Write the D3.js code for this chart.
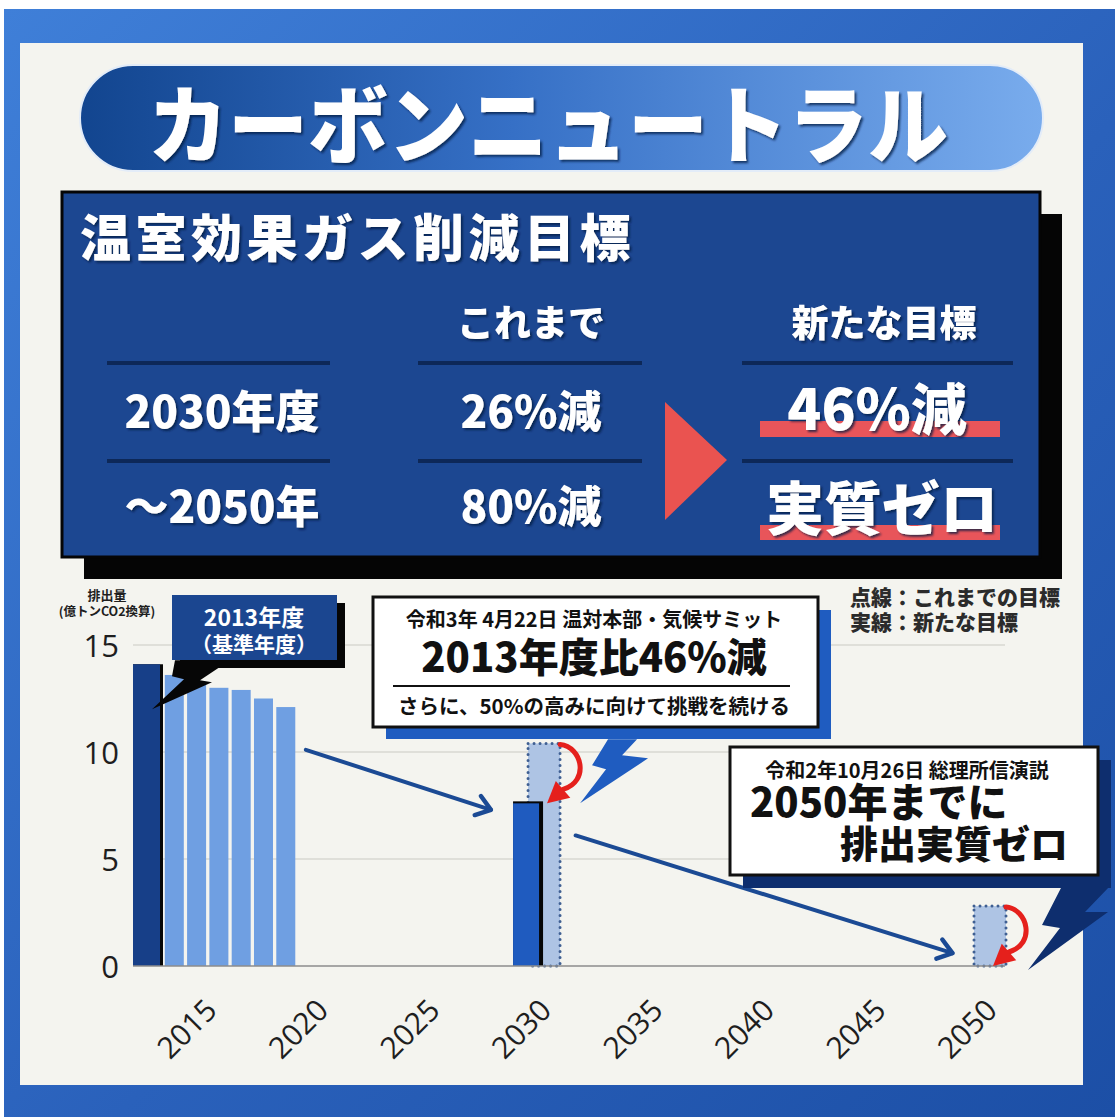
<!DOCTYPE html>
<html>
<head>
<meta charset="utf-8">
<script src="https://cdn.jsdelivr.net/npm/d3@7"></script>
<style>
  html, body { margin: 0; padding: 0; background: #ffffff; }
  svg { display: block; }
</style>
</head>
<body>
<script>
// 温室効果ガス排出量（億トンCO2換算）
const actualYears = [2013, 2014, 2015, 2016, 2017, 2018, 2019];
const actualValues = [14.1, 13.6, 13.2, 13.0, 12.9, 12.5, 12.1];
// 実線：新たな目標
const newTargetYears = [2030, 2050];
const newTargetValues = [7.6, 0];
// 点線：これまでの目標
const oldTargetYears = [2030, 2050];
const oldTargetValues = [10.4, 2.8];
// 軸の目盛り
const xTickYears = [2015, 2020, 2025, 2030, 2035, 2040, 2045, 2050];
const yTickValues = [0, 5, 10, 15];

// 削減目標の表
const tableHeaders = ["これまで", "新たな目標"];
const tableRowLabels = ["2030年度", "〜2050年"];
const tableBefore = ["26%減", "80%減"];
const tableAfter = ["46%減", "実質ゼロ"];

const W = 1115, H = 1117;
const JP = "'Noto Sans CJK JP', 'Noto Sans', sans-serif";
const NUM = "'Open Sans', 'Noto Sans', sans-serif";

const svg = d3.select("body").append("svg")
  .attr("width", W).attr("height", H)
  .attr("viewBox", `0 0 ${W} ${H}`);

const defs = svg.append("defs");

const frameGrad = defs.append("linearGradient").attr("id", "frameGrad")
  .attr("x1", "0").attr("y1", "0").attr("x2", "1").attr("y2", "1");
frameGrad.append("stop").attr("offset", "0%").attr("stop-color", "#3f7fd8");
frameGrad.append("stop").attr("offset", "55%").attr("stop-color", "#2a61bb");
frameGrad.append("stop").attr("offset", "100%").attr("stop-color", "#1c4fa6");

const pillGrad = defs.append("linearGradient").attr("id", "pillGrad")
  .attr("x1", "0").attr("y1", "0").attr("x2", "1").attr("y2", "0");
pillGrad.append("stop").attr("offset", "0%").attr("stop-color", "#12458f");
pillGrad.append("stop").attr("offset", "45%").attr("stop-color", "#3670c6");
pillGrad.append("stop").attr("offset", "100%").attr("stop-color", "#79aced");

const shadowWhite = defs.append("filter").attr("id", "txtShadow")
  .attr("x", "-10%").attr("y", "-20%").attr("width", "130%").attr("height", "150%");
shadowWhite.append("feDropShadow").attr("dx", 2).attr("dy", 2)
  .attr("stdDeviation", 1).attr("flood-color", "#061a3f").attr("flood-opacity", 0.75);

// ---- frame and panel ----
svg.append("rect").attr("x", 4).attr("y", 9).attr("width", W - 4).attr("height", H - 9)
  .attr("fill", "url(#frameGrad)");
svg.append("rect").attr("x", 20).attr("y", 43).attr("width", 1063).attr("height", 1042)
  .attr("fill", "#f4f4ef");

// ---- title pill ----
svg.append("rect").attr("x", 80).attr("y", 65).attr("width", 963).attr("height", 106)
  .attr("rx", 53).attr("fill", "url(#pillGrad)")
  .attr("stroke", "#e3ecf8").attr("stroke-width", 2);
svg.append("text")
  .attr("transform", "translate(548,157) scale(1,1.06)")
  .attr("text-anchor", "middle")
  .attr("font-family", JP).attr("font-weight", 900).attr("font-size", 80)
  .attr("fill", "#ffffff").attr("filter", "url(#txtShadow)")
  .text("カーボンニュートラル");

// ---- summary table ----
const table = svg.append("g");
table.append("rect").attr("x", 84).attr("y", 214).attr("width", 978).attr("height", 365)
  .attr("fill", "#050505");
table.append("rect").attr("x", 62).attr("y", 192).attr("width", 978).attr("height", 365)
  .attr("fill", "#1c4791").attr("stroke", "#050505").attr("stroke-width", 3);

table.append("text").attr("x", 80).attr("y", 257)
  .attr("font-family", JP).attr("font-weight", 900).attr("font-size", 51)
  .attr("letter-spacing", 4.5)
  .attr("fill", "#ffffff").attr("filter", "url(#txtShadow)")
  .text("温室効果ガス削減目標");

const colX = [222, 531, 880];
const dividerSpans = [[107, 330], [418, 642], [742, 1013]];
[363, 461].forEach(yy => {
  dividerSpans.forEach(([a, b]) => {
    table.append("line").attr("x1", a).attr("x2", b).attr("y1", yy).attr("y2", yy)
      .attr("stroke", "#0d2858").attr("stroke-width", 4);
  });
});

// red underline highlights behind the new targets
[[421, 16], [525, 15]].forEach(([yy, hh]) => {
  table.append("rect").attr("x", 760).attr("y", yy).attr("width", 240).attr("height", hh)
    .attr("fill", "#e8555a");
});

// arrow between the columns
table.append("path")
  .attr("d", d3.line()([[665, 402], [727, 460], [665, 520]]) + "Z")
  .attr("fill", "#ea5350");

const cellText = (x, y, size, txt) => table.append("text")
  .attr("x", x).attr("y", y).attr("text-anchor", "middle")
  .attr("font-family", JP).attr("font-weight", 900).attr("font-size", size)
  .attr("fill", "#ffffff").attr("filter", "url(#txtShadow)")
  .text(txt);

cellText(colX[1], 337, 37, tableHeaders[0]);
cellText(colX[2] + 4, 337, 37, tableHeaders[1]);

const rowY = [428, 523];
tableRowLabels.forEach((t, i) => cellText(colX[0], rowY[i], 44, t));
tableBefore.forEach((t, i) => cellText(colX[1], rowY[i], 44, t));
cellText(colX[2] - 3, 430, 56, tableAfter[0]);
cellText(colX[2] + 2, 530, 58, tableAfter[1]);

// ---- emissions chart ----
const x = d3.scaleLinear().domain([2013, 2050]).range([152, 977]);
const y = d3.scaleLinear().domain([0, 15]).range([966, 645]);
const plotLeft = 133, plotRight = 1005;

const chart = svg.append("g");

// gridlines
chart.append("g").selectAll("line")
  .data(yTickValues.filter(v => v > 0))
  .join("line")
  .attr("x1", plotLeft).attr("x2", plotRight)
  .attr("y1", d => y(d)).attr("y2", d => y(d))
  .attr("stroke", "#d8d8d2").attr("stroke-width", 1.5);

// y axis
const yAxis = chart.append("g")
  .attr("transform", `translate(${plotLeft - 14},0)`)
  .call(d3.axisLeft(y).tickValues(yTickValues).tickSize(0).tickPadding(0));
yAxis.select(".domain").remove();
yAxis.selectAll("text")
  .attr("font-family", NUM).attr("font-size", 31).attr("fill", "#1e1e1e")
  .attr("dy", "0.36em");

// axis title
chart.append("text").attr("x", 107).attr("y", 600).attr("text-anchor", "middle")
  .attr("font-family", JP).attr("font-weight", 700).attr("font-size", 13)
  .attr("fill", "#1e1e1e").text("排出量");
chart.append("text").attr("x", 107).attr("y", 616).attr("text-anchor", "middle")
  .attr("font-family", JP).attr("font-weight", 700).attr("font-size", 12.5)
  .attr("fill", "#1e1e1e").text("(億トンCO2換算)");

// legend note
chart.append("text").attr("x", 850).attr("y", 605)
  .attr("font-family", JP).attr("font-weight", 900).attr("font-size", 21)
  .attr("fill", "#2b2b2b").text("点線：これまでの目標");
chart.append("text").attr("x", 850).attr("y", 630)
  .attr("font-family", JP).attr("font-weight", 900).attr("font-size", 21)
  .attr("fill", "#2b2b2b").text("実線：新たな目標");

// old-target bars (dotted outline)
const oldData = oldTargetYears.map((yr, i) => ({ year: yr, value: oldTargetValues[i] }));
chart.append("g").selectAll("rect")
  .data(oldData)
  .join("rect")
  .attr("x", d => x(d.year) - 3)
  .attr("width", 32)
  .attr("y", d => y(d.value))
  .attr("height", d => y(0) - y(d.value))
  .attr("fill", "#aec4e4")
  .attr("stroke", "#3f5f92").attr("stroke-width", 3)
  .attr("stroke-dasharray", "0 6").attr("stroke-linecap", "round");

// record years
const actualData = actualYears.map((yr, i) => ({ year: yr, value: actualValues[i] }));
const baseYear = actualData[0];
const laterYears = actualData.slice(1);

chart.append("g").selectAll("rect")
  .data(laterYears)
  .join("rect")
  .attr("x", d => x(d.year) - 9.5)
  .attr("width", 19)
  .attr("y", d => y(d.value))
  .attr("height", d => y(0) - y(d.value))
  .attr("fill", "#6f9fe2");

// base year bar with dark edge
chart.append("rect")
  .attr("x", x(baseYear.year) - 19).attr("width", 30)
  .attr("y", y(baseYear.value)).attr("height", y(0) - y(baseYear.value))
  .attr("fill", "#060606");
chart.append("rect")
  .attr("x", x(baseYear.year) - 19).attr("width", 27)
  .attr("y", y(baseYear.value)).attr("height", y(0) - y(baseYear.value))
  .attr("fill", "#173f88");

// new-target bars (solid)
const newData = newTargetYears.map((yr, i) => ({ year: yr, value: newTargetValues[i] }))
  .filter(d => d.value > 0);
const newG = chart.append("g");
newG.selectAll("rect.edge")
  .data(newData)
  .join("rect").attr("class", "edge")
  .attr("x", d => x(d.year) - 18).attr("width", 30)
  .attr("y", d => y(d.value) - 2).attr("height", d => y(0) - y(d.value) + 2)
  .attr("fill", "#060606");
newG.selectAll("rect.fill")
  .data(newData)
  .join("rect").attr("class", "fill")
  .attr("x", d => x(d.year) - 18).attr("width", 26)
  .attr("y", d => y(d.value)).attr("height", d => y(0) - y(d.value))
  .attr("fill", "#1f5bbf");

// baseline
chart.append("line")
  .attr("x1", plotLeft).attr("x2", plotRight)
  .attr("y1", y(0)).attr("y2", y(0))
  .attr("stroke", "#8d8d8d").attr("stroke-width", 1.5);

// x tick labels
chart.append("g").selectAll("text")
  .data(xTickYears)
  .join("text")
  .attr("transform", d => `translate(${x(d) + 22},${y(0) + 46}) rotate(-45)`)
  .attr("text-anchor", "end")
  .attr("font-family", NUM).attr("font-size", 30).attr("fill", "#1e1e1e")
  .text(d => d);

// trend arrows between the milestones
const arrowColor = "#1b4a94";
function trendArrow(from, to) {
  const p0 = [x(from[0]), y(from[1])];
  const p1 = [x(to[0]), y(to[1])];
  chart.append("line")
    .attr("x1", p0[0]).attr("y1", p0[1]).attr("x2", p1[0]).attr("y2", p1[1])
    .attr("stroke", arrowColor).attr("stroke-width", 4).attr("stroke-linecap", "round");
  const ang = Math.atan2(p1[1] - p0[1], p1[0] - p0[0]);
  const len = 17, spread = Math.PI / 5;
  const a = [p1[0] - len * Math.cos(ang - spread), p1[1] - len * Math.sin(ang - spread)];
  const b = [p1[0] - len * Math.cos(ang + spread), p1[1] - len * Math.sin(ang + spread)];
  chart.append("path")
    .attr("d", d3.line()([a, p1, b]))
    .attr("fill", "none").attr("stroke", arrowColor).attr("stroke-width", 4.5)
    .attr("stroke-linecap", "round").attr("stroke-linejoin", "round");
}
trendArrow([2019.9, 10.1], [2028.2, 7.3]);
trendArrow([2032.0, 6.1], [2048.9, 0.6]);

// red curved arrows: old target → new target
function dropArrow(year, oldVal, newVal) {
  const S = [x(year) + 29, y(oldVal) + 1];
  const T = [x(year) + 16, y(newVal)];
  const E = [T[0] + 16, T[1] - 14];
  const p = d3.path();
  p.moveTo(S[0], S[1]);
  p.bezierCurveTo(S[0] + 22, S[1] + 2, S[0] + 30, T[1] - 22, E[0], E[1]);
  chart.append("path").attr("d", p.toString())
    .attr("fill", "none").attr("stroke", "#e5201c").attr("stroke-width", 5)
    .attr("stroke-linecap", "round");
  const dx = T[0] - E[0], dy = T[1] - E[1];
  const L = Math.hypot(dx, dy);
  const nx = -dy / L, ny = dx / L;
  const hw = 11;
  chart.append("path")
    .attr("d", d3.line()([
      [E[0] + nx * hw, E[1] + ny * hw], T, [E[0] - nx * hw, E[1] - ny * hw]
    ]) + "Z")
    .attr("fill", "#e5201c");
}
oldTargetYears.forEach((yr, i) => dropArrow(yr, oldTargetValues[i], newTargetValues[i]));

// lightning tails of the callouts (offsets from the tip)
function bolt(tip, offsets, color) {
  const pts = offsets.map(([dx, dy]) => [tip[0] + dx, tip[1] + dy]);
  chart.append("path").attr("d", d3.line()(pts) + "Z").attr("fill", color);
}

// ---- callout: base year ----
bolt([x(2013), y(12.0)],
  [[23, -49], [78, -49], [48, -29], [60, -27], [0, 0], [32, -30], [20, -33]], "#060606");
chart.append("rect").attr("x", 180).attr("y", 603).attr("width", 165).attr("height", 65)
  .attr("fill", "#060606");
chart.append("rect").attr("x", 172).attr("y", 595).attr("width", 165).attr("height", 65)
  .attr("fill", "#1b4690");
chart.append("text").attr("x", 254).attr("y", 626).attr("text-anchor", "middle")
  .attr("font-family", JP).attr("font-weight", 700).attr("font-size", 23)
  .attr("fill", "#ffffff").text("2013年度");
chart.append("text").attr("x", 254).attr("y", 652).attr("text-anchor", "middle")
  .attr("font-family", JP).attr("font-weight", 700).attr("font-size", 21)
  .attr("fill", "#ffffff").text("（基準年度）");

// ---- callout: 2030 target ----
bolt([x(2030) + 49, y(7.6)],
  [[28, -64], [57, -64], [42, -48], [68, -45], [0, 0], [26, -34], [12, -38]], "#1f5cc0");
chart.append("rect").attr("x", 386).attr("y", 610).attr("width", 445).attr("height", 129)
  .attr("fill", "#1f5cc0");
chart.append("rect").attr("x", 373).attr("y", 597).attr("width", 445).attr("height", 130)
  .attr("fill", "#ffffff").attr("stroke", "#111111").attr("stroke-width", 3);
chart.append("text").attr("x", 594).attr("y", 627).attr("text-anchor", "middle")
  .attr("font-family", JP).attr("font-weight", 700).attr("font-size", 20)
  .attr("fill", "#111111").text("令和3年 4月22日 温対本部・気候サミット");
chart.append("text").attr("x", 594).attr("y", 672).attr("text-anchor", "middle")
  .attr("font-family", JP).attr("font-weight", 900).attr("font-size", 40)
  .attr("fill", "#111111").text("2013年度比46%減");
chart.append("line").attr("x1", 393).attr("x2", 790).attr("y1", 686).attr("y2", 686)
  .attr("stroke", "#111111").attr("stroke-width", 2);
chart.append("text").attr("x", 594).attr("y", 714).attr("text-anchor", "middle")
  .attr("font-family", JP).attr("font-weight", 700).attr("font-size", 20.5)
  .attr("fill", "#111111").text("さらに、50%の高みに向けて挑戦を続ける");

// ---- callout: 2050 target ----
bolt([x(2050) + 51, y(0) + 4],
  [[34, -84], [82, -84], [57, -58], [80, -58], [0, 0], [32, -42], [14, -45]], "#0e2e6e");
chart.append("rect").attr("x", 743).attr("y", 760).attr("width", 368).attr("height", 128)
  .attr("fill", "#0e2e6e");
chart.append("rect").attr("x", 730).attr("y", 747).attr("width", 368).attr("height", 128)
  .attr("fill", "#ffffff").attr("stroke", "#111111").attr("stroke-width", 3);
chart.append("text").attr("x", 907).attr("y", 778).attr("text-anchor", "middle")
  .attr("font-family", JP).attr("font-weight", 700).attr("font-size", 20)
  .attr("fill", "#111111").text("令和2年10月26日 総理所信演説");
chart.append("text").attr("x", 750).attr("y", 817)
  .attr("font-family", JP).attr("font-weight", 900).attr("font-size", 40)
  .attr("fill", "#111111").text("2050年までに");
chart.append("text").attr("x", 1068).attr("y", 858).attr("text-anchor", "end")
  .attr("font-family", JP).attr("font-weight", 900).attr("font-size", 38)
  .attr("fill", "#111111").text("排出実質ゼロ");
</script>
</body>
</html>
